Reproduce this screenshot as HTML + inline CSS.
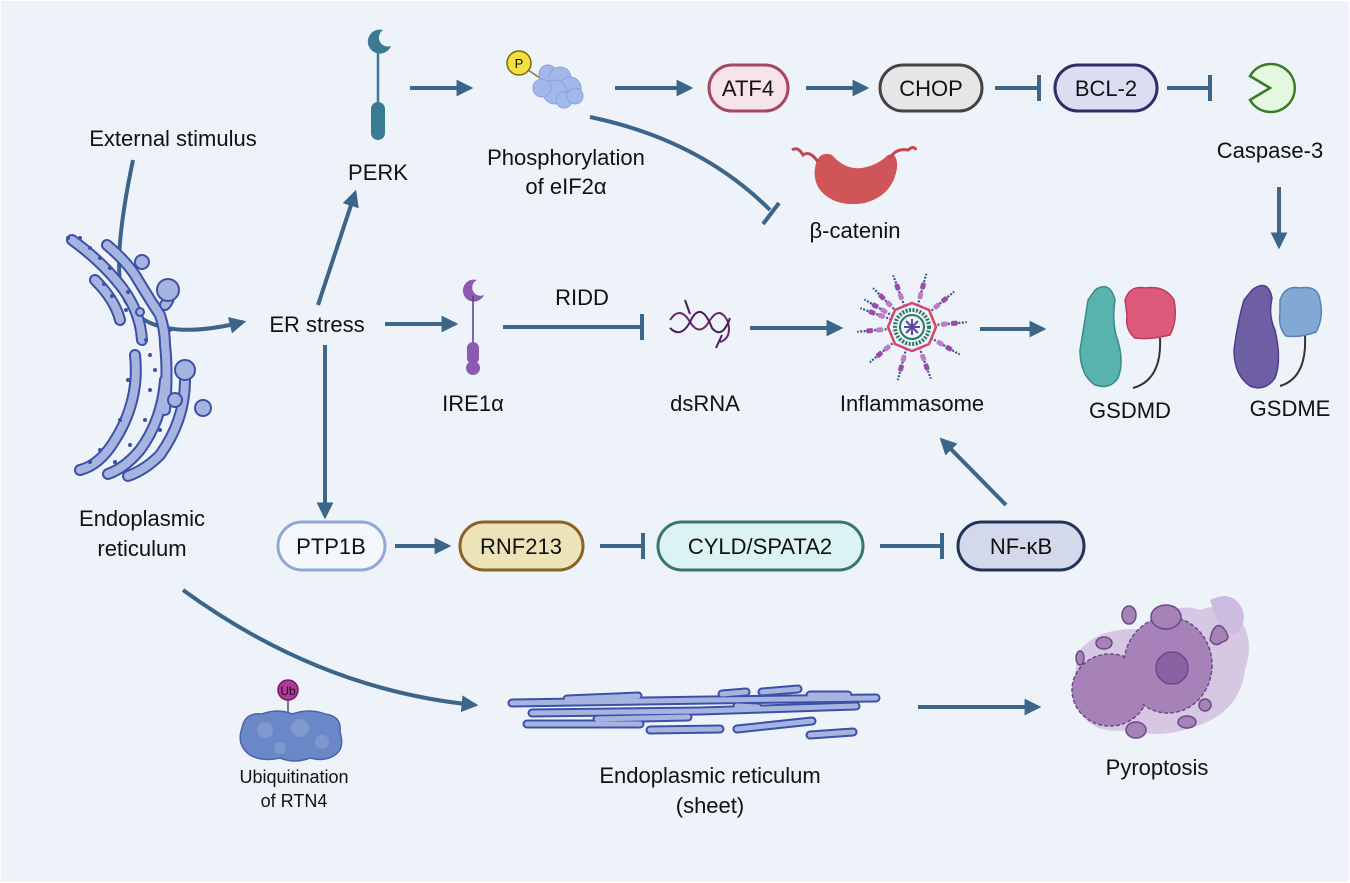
<!DOCTYPE html>
<html><head><meta charset="utf-8"><style>
html,body{margin:0;padding:0;background:#eef3fa;}
svg{display:block}
text{font-family:"Liberation Sans",sans-serif;fill:#111;}
</style></head><body>
<svg width="1350" height="883" viewBox="0 0 1350 883" xmlns="http://www.w3.org/2000/svg">
<defs>
<marker id="ah" viewBox="0 0 10 10" refX="8" refY="5" markerWidth="4.2" markerHeight="4.2" orient="auto" markerUnits="strokeWidth"><path d="M0,0 L10,5 L0,10 z" fill="#3b6589"/></marker>
<g id="ray"><line x1="0" y1="-22" x2="0" y2="-55" stroke="#2f5a8a" stroke-width="2.2" stroke-dasharray="2 1.5"/><rect x="-2.5" y="-36" width="5" height="7" rx="2" fill="#c07ac8"/><rect x="-2.5" y="-46" width="5" height="7" rx="2" fill="#9a4aa8"/></g>
</defs>
<rect x="0" y="0" width="1350" height="883" fill="#eef3fa"/>
<rect x="0.5" y="0.5" width="1349" height="882" fill="none" stroke="#ffffff" stroke-width="1"/>

<g stroke="#3b6589" stroke-width="4" fill="none" stroke-linecap="butt">
<line x1="410" y1="88" x2="470" y2="88" marker-end="url(#ah)"/>
<line x1="615" y1="88" x2="690" y2="88" marker-end="url(#ah)"/>
<line x1="806" y1="88" x2="866" y2="88" marker-end="url(#ah)"/>
<line x1="995" y1="88" x2="1038" y2="88"/><line x1="1039" y1="75" x2="1039" y2="101"/>
<line x1="1167" y1="88" x2="1209" y2="88"/><line x1="1210" y1="75" x2="1210" y2="101"/>
<line x1="1279" y1="187" x2="1279" y2="246" marker-end="url(#ah)"/>
<path d="M590,117 Q700,140 770,210"/><line x1="763" y1="224" x2="779" y2="203"/>
<line x1="318" y1="305" x2="355" y2="193" marker-end="url(#ah)"/>
<path d="M133,160 Q110,270 125,300 Q150,345 243,322" marker-end="url(#ah)"/>
<line x1="385" y1="324" x2="455" y2="324" marker-end="url(#ah)"/>
<line x1="503" y1="327" x2="640" y2="327"/><line x1="642" y1="314" x2="642" y2="340"/>
<line x1="750" y1="328" x2="840" y2="328" marker-end="url(#ah)"/>
<line x1="980" y1="329" x2="1043" y2="329" marker-end="url(#ah)"/>
<line x1="325" y1="345" x2="325" y2="516" marker-end="url(#ah)"/>
<line x1="395" y1="546" x2="448" y2="546" marker-end="url(#ah)"/>
<line x1="600" y1="546" x2="642" y2="546"/><line x1="643" y1="533" x2="643" y2="559"/>
<line x1="880" y1="546" x2="941" y2="546"/><line x1="942" y1="533" x2="942" y2="559"/>
<line x1="1006" y1="505" x2="942" y2="440" marker-end="url(#ah)"/>
<path d="M183,590 Q320,690 475,705" marker-end="url(#ah)"/>
<line x1="918" y1="707" x2="1038" y2="707" marker-end="url(#ah)"/>
</g>

<g stroke-width="3">
<rect x="709" y="65" width="79" height="46" rx="23" fill="#f7e3ea" stroke="#a6485f"/>
<rect x="880" y="65" width="102" height="46" rx="23" fill="#e6e6e6" stroke="#444"/>
<rect x="1055" y="65" width="102" height="46" rx="23" fill="#dcdcf3" stroke="#2f2f68"/>
<rect x="278" y="522" width="107" height="48" rx="24" fill="#f4f7fc" stroke="#90a8d8"/>
<rect x="460" y="522" width="123" height="48" rx="24" fill="#ece4b8" stroke="#8a6226"/>
<rect x="658" y="522" width="205" height="48" rx="24" fill="#dcf3f3" stroke="#3a7474"/>
<rect x="958" y="522" width="126" height="48" rx="24" fill="#d3d8ea" stroke="#1f3458"/>
</g>
<g font-size="22" text-anchor="middle">
<text x="748" y="96">ATF4</text>
<text x="931" y="96">CHOP</text>
<text x="1106" y="96">BCL-2</text>
<text x="331" y="554">PTP1B</text>
<text x="521" y="554">RNF213</text>
<text x="760" y="554">CYLD/SPATA2</text>
<text x="1021" y="554">NF-κB</text>
</g>

<g font-size="22" text-anchor="middle">
<text x="173" y="146">External stimulus</text>
<text x="378" y="180">PERK</text>
<text x="566" y="165">Phosphorylation</text>
<text x="566" y="194">of eIF2α</text>
<text x="1270" y="158">Caspase-3</text>
<text x="855" y="238">β-catenin</text>
<text x="317" y="332">ER stress</text>
<text x="582" y="305">RIDD</text>
<text x="473" y="411">IRE1α</text>
<text x="705" y="411">dsRNA</text>
<text x="912" y="411">Inflammasome</text>
<text x="1130" y="418">GSDMD</text>
<text x="1290" y="416">GSDME</text>
<text x="142" y="526">Endoplasmic</text>
<text x="142" y="556">reticulum</text>
<text x="710" y="783">Endoplasmic reticulum</text>
<text x="710" y="813">(sheet)</text>
<text x="1157" y="775">Pyroptosis</text>
</g>
<g font-size="18" text-anchor="middle">
<text x="294" y="783">Ubiquitination</text>
<text x="294" y="807">of RTN4</text>
</g>

<path d="M383,30 a12,12 0 1 0 8,16 a9,9 0 0 1 -8,-16z" fill="#3a7a92"/>
<line x1="378" y1="48" x2="378" y2="105" stroke="#3a7a92" stroke-width="2.5"/>
<rect x="371" y="102" width="14" height="38" rx="7" fill="#3a7a92"/>
<path d="M477,280 a11,11 0 1 0 7,15 a8,8 0 0 1 -7,-15z" fill="#8a5bb0"/>
<line x1="473" y1="296" x2="473" y2="345" stroke="#5a3a80" stroke-width="1.5"/>
<rect x="467" y="342" width="12" height="22" rx="6" fill="#8a5bb0"/>
<circle cx="473" cy="368" r="7" fill="#8a5bb0"/>

<line x1="522" y1="66" x2="540" y2="78" stroke="#8a7a20" stroke-width="1.5"/>
<g fill="#a3b8ea" stroke="#8aa2dd" stroke-width="1">
<circle cx="548" cy="74" r="9"/><circle cx="560" cy="78" r="11"/><circle cx="570" cy="88" r="11"/>
<circle cx="555" cy="92" r="12"/><circle cx="542" cy="88" r="9"/><circle cx="564" cy="100" r="8"/><circle cx="575" cy="96" r="8"/>
</g>
<circle cx="519" cy="63" r="12" fill="#f2e040" stroke="#7a6a10" stroke-width="1.5"/>
<text x="519" y="68" font-size="13" text-anchor="middle" fill="#333">P</text>

<path d="M1270,88 L1250,76 A24,24 0 1 1 1250,100 Z" fill="#e3f8de" stroke="#3a7a26" stroke-width="2.5"/>

<!-- beta-catenin -->
<path d="M815,168 Q818,150 832,155 Q845,170 862,168 Q878,165 888,155 Q898,152 897,168 Q893,195 865,203 Q835,208 820,190 Q813,180 815,168z" fill="#d05558"/>
<path d="M818,162 Q810,150 803,155 Q798,146 792,150" stroke="#c04850" stroke-width="3" fill="none"/>
<path d="M890,158 Q896,148 908,150 Q914,145 916,150" stroke="#c04850" stroke-width="3" fill="none"/>

<g fill="none" stroke-width="2">
<path d="M670,320 Q680,305 690,322 Q700,338 710,320 Q720,305 728,322 Q732,338 720,342" stroke="#6a2a6a"/>
<path d="M670,328 Q682,340 692,318 Q702,302 712,328 Q722,340 730,318" stroke="#4a1a5a"/>
<path d="M685,300 L690,314 M722,335 L716,348" stroke="#4a1a5a"/>
</g>

<g transform="translate(912,327)">
<use href="#ray" transform="rotate(-20)"/><use href="#ray" transform="rotate(15)"/><use href="#ray" transform="rotate(50)"/><use href="#ray" transform="rotate(85)"/><use href="#ray" transform="rotate(120)"/><use href="#ray" transform="rotate(160)"/><use href="#ray" transform="rotate(195)"/><use href="#ray" transform="rotate(230)"/><use href="#ray" transform="rotate(265)"/><use href="#ray" transform="rotate(300)"/><use href="#ray" transform="rotate(-45)"/><use href="#ray" transform="rotate(-70)"/>
<polygon points="0,-24 17,-17 24,0 17,17 0,24 -17,17 -24,0 -17,-17" fill="#eef3fa" stroke="#d8456a" stroke-width="2.5"/>
<circle r="17" fill="none" stroke="#2a7a60" stroke-width="4" stroke-dasharray="2 1.5"/>
<circle r="12" fill="none" stroke="#2a7a60" stroke-width="2"/>
<g stroke="#5a4aa0" stroke-width="2"><line x1="-8" y1="0" x2="8" y2="0"/><line x1="0" y1="-8" x2="0" y2="8"/><line x1="-6" y1="-6" x2="6" y2="6"/><line x1="-6" y1="6" x2="6" y2="-6"/></g>
</g>

<path d="M1095,290 Q1110,280 1115,300 Q1112,318 1116,335 Q1125,360 1118,378 Q1110,390 1095,385 Q1080,375 1080,350 Q1085,320 1088,300z" fill="#58b2ae" stroke="#3a8a86" stroke-width="1.5"/>
<path d="M1125,300 Q1130,285 1145,288 Q1165,285 1174,300 Q1178,320 1170,335 Q1150,340 1135,338 Q1125,330 1127,315z" fill="#dd5a7a" stroke="#b8405e" stroke-width="1.5"/>
<path d="M1160,338 Q1162,380 1133,388" fill="none" stroke="#333" stroke-width="2"/>
<path d="M1252,290 Q1268,278 1272,298 Q1268,315 1275,330 Q1282,360 1275,378 Q1265,392 1250,386 Q1234,375 1234,350 Q1238,320 1244,300z" fill="#6e5ea6" stroke="#4e3e86" stroke-width="1.5"/>
<path d="M1280,300 Q1285,285 1300,288 Q1318,285 1320,300 Q1324,318 1316,332 Q1300,338 1286,336 Q1278,328 1280,312z" fill="#82a8d4" stroke="#5a82b4" stroke-width="1.5"/>
<path d="M1305,336 Q1307,378 1280,386" fill="none" stroke="#333" stroke-width="2"/>

<g fill="none" stroke-linecap="round">
<g stroke="#3d50a8" stroke-width="12">
<path d="M72,240 Q100,260 120,285 Q140,310 142,340"/>
<path d="M107,245 Q125,260 135,275 Q150,300 160,315 Q165,330 165,345 Q168,370 165,410"/>
<path d="M95,280 Q115,300 120,320"/>
<path d="M135,355 Q140,400 115,440 Q100,465 80,470"/>
<path d="M165,380 Q162,420 140,450 Q125,468 108,474"/>
<path d="M185,380 Q185,420 160,455 Q145,470 128,476"/>
<path d="M170,290 Q170,300 165,305"/>
</g>
<g stroke="#a6b4e0" stroke-width="8">
<path d="M72,240 Q100,260 120,285 Q140,310 142,340"/>
<path d="M107,245 Q125,260 135,275 Q150,300 160,315 Q165,330 165,345 Q168,370 165,410"/>
<path d="M95,280 Q115,300 120,320"/>
<path d="M135,355 Q140,400 115,440 Q100,465 80,470"/>
<path d="M165,380 Q162,420 140,450 Q125,468 108,474"/>
<path d="M185,380 Q185,420 160,455 Q145,470 128,476"/>
<path d="M170,290 Q170,300 165,305"/>
</g>
</g>
<g fill="#a6b4e0" stroke="#3d50a8" stroke-width="2">
<circle cx="142" cy="262" r="7"/><circle cx="168" cy="290" r="11"/><circle cx="185" cy="370" r="10"/><circle cx="203" cy="408" r="8"/><circle cx="175" cy="400" r="7"/><circle cx="140" cy="312" r="4"/>
</g>
<g fill="#3d50a8">
<circle cx="68" cy="238" r="2"/><circle cx="80" cy="238" r="2"/><circle cx="90" cy="248" r="2"/><circle cx="100" cy="258" r="2"/><circle cx="110" cy="268" r="2"/><circle cx="104" cy="284" r="2"/><circle cx="112" cy="296" r="2"/><circle cx="128" cy="292" r="2"/><circle cx="126" cy="310" r="2"/><circle cx="146" cy="340" r="2"/><circle cx="150" cy="355" r="2"/><circle cx="128" cy="380" r="2"/><circle cx="150" cy="390" r="2"/><circle cx="120" cy="420" r="2"/><circle cx="145" cy="420" r="2"/><circle cx="100" cy="450" r="2"/><circle cx="130" cy="445" r="2"/><circle cx="90" cy="462" r="2"/><circle cx="115" cy="462" r="2"/><circle cx="160" cy="430" r="2"/><circle cx="170" cy="330" r="2"/><circle cx="155" cy="370" r="2"/>
</g>

<!-- Ub protein -->
<line x1="288" y1="700" x2="288" y2="714" stroke="#555" stroke-width="1.5"/>
<path d="M242,728 Q245,712 262,714 Q278,708 292,714 Q310,708 325,714 Q342,716 340,732 Q345,748 335,755 Q325,762 310,758 Q295,764 280,758 Q262,762 250,755 Q236,745 242,728z" fill="#6a88c8" stroke="#4a64a8" stroke-width="1.5"/>
<g fill="#7f98d0"><circle cx="265" cy="730" r="8"/><circle cx="300" cy="728" r="9"/><circle cx="322" cy="742" r="7"/><circle cx="280" cy="748" r="6"/></g>
<circle cx="288" cy="690" r="10" fill="#b03a98" stroke="#7a1a68" stroke-width="1.5"/>
<text x="288" y="695" font-size="12" text-anchor="middle" fill="#fff">Ub</text>

<!-- ER sheet -->
<g fill="none" stroke-linecap="round">
<g stroke="#3d50a8" stroke-width="9">
<path d="M512,703 L710,700 L876,698"/><path d="M532,713 L700,711 L856,706"/><path d="M527,724 L640,724"/><path d="M650,730 L720,729"/><path d="M737,729 L812,721"/><path d="M597,719 L688,717"/><path d="M567,699 L638,696"/><path d="M737,706 L758,707"/><path d="M810,695 L848,695"/><path d="M810,735 L853,732"/><path d="M722,694 L746,692"/><path d="M762,692 L798,689"/>
</g>
<g stroke="#a6b4e0" stroke-width="5">
<path d="M512,703 L710,700 L876,698"/><path d="M532,713 L700,711 L856,706"/><path d="M527,724 L640,724"/><path d="M650,730 L720,729"/><path d="M737,729 L812,721"/><path d="M597,719 L688,717"/><path d="M567,699 L638,696"/><path d="M737,706 L758,707"/><path d="M810,695 L848,695"/><path d="M810,735 L853,732"/><path d="M722,694 L746,692"/><path d="M762,692 L798,689"/>
</g>
</g>

<g>
<path d="M1080,650 Q1100,625 1150,630 Q1170,600 1200,610 Q1225,600 1240,620 Q1255,640 1245,670 Q1240,710 1200,725 Q1160,740 1130,730 Q1090,735 1080,710 Q1070,680 1080,650z" fill="#d6c8e2"/>
<path d="M1210,600 Q1230,590 1240,605 Q1250,620 1235,635 Q1220,630 1215,615z" fill="#cdbbe0"/>
<ellipse cx="1110" cy="690" rx="38" ry="36" fill="#a782b8" stroke="#6a4a88" stroke-width="1.5" stroke-dasharray="4 2"/>
<ellipse cx="1168" cy="665" rx="44" ry="48" fill="#a782b8" stroke="#6a4a88" stroke-width="1.5" stroke-dasharray="4 2"/>
<ellipse cx="1110" cy="690" rx="36" ry="34" fill="#a782b8"/>
<circle cx="1172" cy="668" r="16" fill="#8a62a4" stroke="#6a4a88" stroke-width="1.5"/>
<ellipse cx="1166" cy="617" rx="15" ry="12" fill="#a782b8" stroke="#6a4a88" stroke-width="1.5"/>
<g fill="#a782b8" stroke="#6a4a88" stroke-width="1.5">
<ellipse cx="1129" cy="615" rx="7" ry="9"/><ellipse cx="1104" cy="643" rx="8" ry="6"/><ellipse cx="1080" cy="658" rx="4" ry="7"/><ellipse cx="1136" cy="730" rx="10" ry="8"/><ellipse cx="1187" cy="722" rx="9" ry="6"/><ellipse cx="1205" cy="705" rx="6" ry="6"/><path d="M1212,632 Q1218,620 1225,630 Q1232,640 1222,642 Q1215,648 1210,640z"/>
</g>
</g>
</svg>
</body></html>
